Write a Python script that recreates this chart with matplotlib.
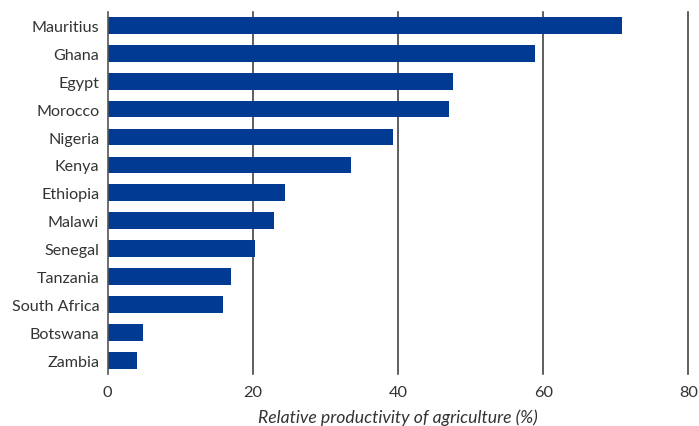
import numpy as np
import matplotlib
matplotlib.use("Agg")
from matplotlib import pyplot as plt

countries = ["Mauritius", "Ghana", "Egypt", "Morocco", "Nigeria", "Kenya", "Ethiopia",
             "Malawi", "Senegal", "Tanzania", "South Africa", "Botswana", "Zambia"]
values = [70.8, 58.9, 47.6, 47.0, 39.3, 33.5, 24.4, 22.9, 20.3, 17.0, 15.9, 4.9, 4.0]
xticks = [0, 20, 40, 60, 80]

bar_color = "#003A93"
text_color = "#333333"

plt.rcParams['font.family'] = ['Lato', 'DejaVu Sans']

fig = plt.figure(figsize=(6.99, 4.27), dpi=100)
ax = fig.add_axes([107.7 / 699, 1 - 375 / 427, (688.3 - 107.7) / 699, (375 - 12.7) / 427])

y = np.arange(len(countries))
ax.barh(y, values, height=0.6, color=bar_color, zorder=3)

ax.set_ylim(len(countries) - 0.51, -0.49)
ax.set_xlim(0, 80)
ax.set_yticks(y)
ax.set_yticklabels(countries, fontsize=11.6, color=text_color)
ax.set_xticks(xticks)
ax.set_xticklabels([str(t) for t in xticks], fontsize=11.8, color=text_color)
ax.tick_params(axis='both', length=0)
ax.tick_params(axis='y', pad=6)
ax.tick_params(axis='x', pad=8)

# grid lines, the last one sits on the right edge
for t in xticks[1:]:
    ax.axvline(t, color="#333333", linewidth=1.1, zorder=1, clip_on=False)

for s in ["top", "right", "bottom"]:
    ax.spines[s].set_visible(False)
ax.spines["left"].set_color("#555555")
ax.spines["left"].set_linewidth(1.2)
ax.spines["left"].set_zorder(4)

ax.set_xlabel("Relative productivity of agriculture (%)", fontsize=12.7, style="italic",
              color=text_color, labelpad=7)

fig.savefig("out.png", dpi=100)
